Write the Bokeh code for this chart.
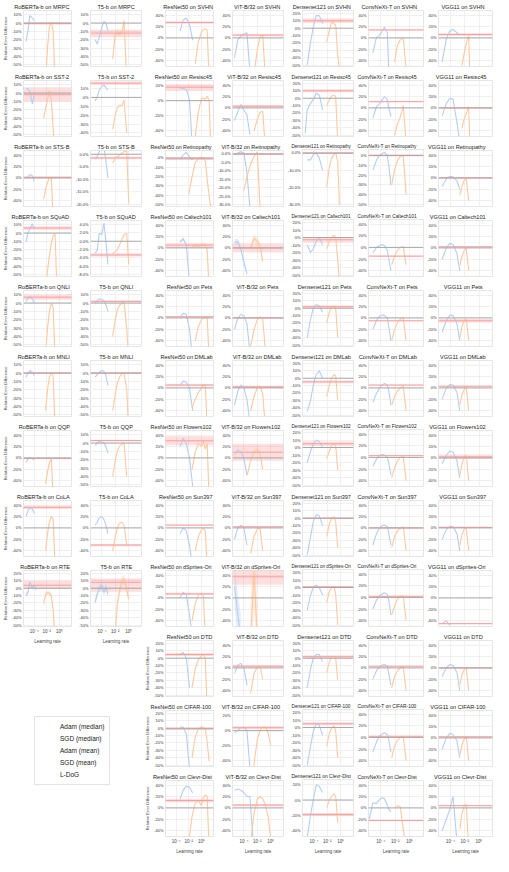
import math
from bokeh.plotting import figure
from bokeh.layouts import row, column
from bokeh.models import (FixedTicker, Range1d, Span, BoxAnnotation, Legend, LegendItem,
                          PrintfTickFormatter)
from bokeh.embed import file_html
from bokeh.resources import INLINE

# ---------------- data (log10 learning rates, relative error difference in %) ----------------
NLP_TASKS = ["MRPC", "SST-2", "STS-B", "SQuAD", "QNLI", "MNLI", "QQP", "CoLA", "RTE"]
VIS_TASKS = ["SVHN", "Resisc45", "Retinopathy", "Caltech101", "Pets", "DMLab", "Flowers102",
             "Sun397", "dSprites-Ori", "DTD", "CIFAR-100", "Clevr-Dist"]
X_TICKS = [1e-4, 1e-2, 1.0]
X_TICK_LABELS = ["10\u207b\u2074", "10\u207b\u00b2", "10\u2070"]

RB_ADAM_LR = [-5.3, -5.0, -4.7, -4.3, -4.0, -3.7]
RB_SGD_LR = [-2.5, -2.2, -1.9, -1.6, -1.3, -1.0, -0.7, -0.4]
T5_ADAM_LR = [-5.0, -4.7, -4.4, -4.0, -3.7, -3.4, -3.1]
T5_SGD_LR = [-2.4, -2.0, -1.7, -1.4, -1.0, -0.7, -0.3, 0.0]
RN_ADAM_LR = [-3.4, -2.9, -2.4, -1.9, -1.4]
RN_SGD_LR = [-2.0, -1.5, -1.0, -0.5, 0.0, 0.3, 0.6, 0.9, 1.2, 1.5]
VIT_ADAM_LR = [-5.4, -4.9, -4.45, -4.0, -3.55, -3.1, -2.65]
VIT_SGD_LR = [-4.0, -3.5, -3.0, -2.5, -2.0, -1.6, -1.2, -0.8, -0.4, 0.0]
DN_ADAM_LR = [-5.3, -5.0, -4.5, -4.1, -3.65, -3.2, -2.7]
DN_SGD_LR = [-2.1, -1.7, -1.35, -1.0, -0.75, -0.45, -0.2]
CN_ADAM_LR = [-5.6, -5.1, -4.6, -4.2, -3.8, -3.5, -3.1, -2.9, -2.6]
CN_SGD_LR = [-2.5, -2.1, -1.7, -1.3, -0.9, -0.5, -0.2]
VGG_ADAM_LR = [-5.2, -4.6, -4.1, -3.65, -3.1, -2.7]
VGG_SGD_LR = [-2.7, -2.4, -2.1, -1.8, -1.45, -1.3]

# each panel: (Adam median, SGD median, L-DoG (value, low, high))
RB_MRPC = ([-22, -10, 9, 6, 3, None], [None, -70, -30, -4, 1, -10, -70, None], (-0.5, -2, 1))
RB_SST2 = ([6, 5, 2, -13, -3, None], [-30, -18, -8, 3, -8, -43, -70, None], (-2, -10, 7))
RB_STSB = ([-1, 2, 6, 4, -6, None], [-37, -20, -8, 0, 1, -70, None, None], (1, -1, 3))
RB_SQUAD = ([-11, 0, 5, 11, 5, None], [None, -70, -45, -28, -12, -3, -1, -70], (6, 4, 8))
RB_QNLI = ([2, 6, 8, 5, 0, None], [None, -60, -30, -10, 0, -5, -70, None], (7, 4, 10))
RB_MNLI = ([-5, 0, 3, 1, -3, None], [None, -45, -20, -5, 0, -3, -70, None], (0, -1, 1))
RB_QQP = ([-8, -2, 0, -1, -4, None], [None, -45, -25, -8, -1, -70, None, None], (-1, -2, 0))
RB_COLA = ([20, 30, 35, 33, 25, None], [None, -40, -10, 10, 20, 15, -70, None], (36, 33, 39))
RB_RTE = ([-10, -6, 8, 0, 4, -2], [-21, -8, -6, -7, -10, -30, -70, None], (4, -1, 10))

T5_MRPC = ([-20, -25, -17, -5, 2, 0, -10], [-43, -13, -10, -13, -12, 3, -70, None], (-12, -17, -8))
T5_SST2 = ([-4, 1, 8, 13, 14, 11, 8], [-36, -19, -12, -9, -9, -3, -40, None], (16, 14, 18))
T5_STSB = ([-2, -0.8, 1, 2.3, 3, -3, -9.5], [-3.5, -1.5, -0.9, -0.5, 0.5, 1.0, 1.3, -20], (-1.5, -2, -1))
T5_SQUAD = ([-2.9, -2.2, 1.9, 1.6, 4.4, -0.1, -5.6], [-2.9, -2.5, -2.0, -1.0, 0.5, 1.6, 1.9, -5.6], (-3.3, -3.7, -2.9))
T5_QNLI = ([0, 3, 5, 4, 3, -2, -10], [-40, -20, -8, -3, 0, 1, -30, -70], (2, 1, 3))
T5_MNLI = ([-5, -2, 1, 3, 2, -3, -15], [-45, -25, -12, -5, -1, 0, -20, -70], (0, -1, 1))
T5_QQP = ([-3, 0, 2, 1, 0, -4, -12], [-40, -20, -10, -4, -1, 0, -40, None], (3, 2, 4))
T5_COLA = ([5, 10, 18, 20, 15, 5, -10], [-40, -15, 0, 8, 10, 5, -30, None], (-30, -32, -28))
T5_RTE = ([-19, -8, 0, 4, -6, 2, -8], [None, -60, -21, -5, 10, 13, -2, -15], (8, -5, 13))

RN_SVHN = ([12, 31, 35, 24, -4], [None, None, -45, -7, 10, 15, 16, 13, -70, None], (27, 25, 29))
RN_RESISC = ([17, 16, 15, 1, -70], [None, None, -48, -15, 3, 3, 2, 6, 1, -70], (18, 13, 22))
RN_RETINO = ([-1, 3, 6, 1, -2], [-39, -20, -5, -1, 1, 0, -3, -23, -40, -55], (-1, -2, 0))
RN_CALTECH = ([10, 16, 5, -60, None], [None, 1, 5, 3, 5, 6, 6, -4, -70, None], (5, 0, 8))
RN_PETS = ([2, 8, 6, -20, -70], [None, None, -40, -15, -3, 0, 2, 1, -70, None], (2, 1, 3))
RN_DMLAB = ([5, 12, 10, 0, -40], [None, -35, -20, -8, 0, 4, 5, -70, None, None], (5, 3, 7))
RN_FLOWERS = ([20, 35, 25, 0, -50], [None, -20, 10, 25, 20, 30, 15, 25, -70, None], (30, 22, 38))
RN_SUN = ([-10, 0, -5, -30, -70], [None, None, -40, -15, -3, -1, -5, -70, None, None], (5, 4, 6))
RN_DSPRITES = ([0, 10, 5, -30, -70], [None, -40, -10, 5, 8, 3, -70, None, None, None], (7, 5, 9))
RN_DTD = ([5, 8, 0, -40, None], [None, -40, -15, -2, 3, 5, 0, -70, None, None], (5, 3, 7))
RN_CIFAR = ([2, 1, -8, -55, None], [None, -40, -12, -1, 2, 1, -2, -18, -45, None], (-1, -2, 0))
RN_CLEVR = ([15, 31, 38, 36, 26], [-60, -15, 8, 13, 4, 18, 23, 20, -70, None], (13, 10, 16))

VIT_SVHN = ([-35, -3, 4, 7, 9, -60, None], [None, None, None, -65, -20, 1, 6, -70, None, None], (5, 3, 7))
VIT_RESISC = ([-22, -6, 6, -4, -12, -47, None], [None, None, None, -40, -20, -8, -6, -70, None, None], (3, 1, 5))
VIT_RETINO = ([-0.4, 0.6, 1.2, 0.6, -11, -32, None], [-21.5, -13, -6, -1.5, 1.2, -31, -31, None, None, None], (-0.2, -0.5, 0.1))
VIT_CALTECH = ([10, 11, -2, -25, -45, None, None], [None, None, -1, 17, 11, 4, -23, None, None, None], (0, -8, 8))
VIT_PETS = ([-20, 0, 6, 4, -10, -60, None], [None, None, -50, -20, -3, 2, 0, -60, None, None], (0, -1, 1))
VIT_DMLAB = ([-30, -5, 5, 0, -20, -60, None], [None, None, -40, -15, 0, 3, -10, -70, None, None], (2, 0, 4))
VIT_FLOWERS = ([5, 15, 10, 0, -30, None, None], [None, -30, -5, 10, 15, 8, -20, None, None, None], (10, -5, 25))
VIT_SUN = ([-20, 0, 5, 0, -30, None, None], [None, None, -45, -15, -2, 0, -40, None, None, None], (2, 1, 3))
VIT_DSPRITES = ([20, -30, -70, None, None, None, None], [None, None, -70, 45, -70, None, None, None, None, None], (37, 23, 50))
VIT_DTD = ([-10, 5, 8, 0, -30, None, None], [None, None, -45, -10, 2, 3, -20, None, None, None], (3, 1, 5))
VIT_CIFAR = ([-3, 0, 4, 5, 0, -50, None], [None, None, -70, -45, -12, 0, 5, 5, -3, -20], (4, 2, 6))
VIT_CLEVR = ([31, 33, 31, 27, 20, 20, -55], [None, None, -60, -10, 15, 20, 16, 5, -15, -55], (5, 3, 7))

DN_SVHN = ([None, -50, -19, 1, 17, 17, 6], [-19, -3, 9, 6, 4, -37, -55], (10, 7, 13))
DN_RESISC = ([-48, -16, -7, -2, 7, 4, -16], [-10, -2, 3, 4, 2, -60, None], (10, 8, 12))
DN_RETINO = ([None, -4, -4, -1, 0, -3, -10], [-20, -8, -3, -1, 0, -5, -30], (-0.2, -0.5, 0))
DN_CALTECH = ([None, -10, -20, -15, -5, 0, -10], [-15, -5, 0, 3, 0, -30, -60], (-3, -7, 0))
DN_PETS = ([None, -40, -15, 0, 5, 3, -5], [-20, -5, 2, 3, 0, -40, None], (2, 0, 4))
DN_DMLAB = ([None, -45, -30, -10, 5, 10, 0], [-25, -10, 0, 5, 3, -30, None], (-5, -7, -3))
DN_FLOWERS = ([None, -20, -5, 5, 10, 8, 0], [-15, -5, 3, 5, 2, -30, None], (5, 2, 8))
DN_SUN = ([None, -50, -25, -5, 5, 3, -10], [-25, -8, 0, 2, -5, -40, None], (0, -1, 1))
DN_DSPRITES = ([None, -30, -10, 0, 3, 0, -10], [-20, -5, 0, 2, -10, -50, None], (1, 0, 2))
DN_DTD = ([None, -40, -15, 0, 5, 5, -5], [-20, -5, 2, 3, 0, -30, None], (2, 0, 4))
DN_CIFAR = ([None, -50, -25, -5, 5, 3, -10], [-25, -8, 0, 2, -5, -40, None], (5, 3, 7))
DN_CLEVR = ([None, -50, -20, 0, 20, 18, 10], [-10, 0, 5, 8, 5, -30, None], (-19, -21, -17))

CN_SVHN = ([None, -26, 1, 4, 12, 19, 9, -55, None], [None, -42, -12, -3, 0, -55, None], (14, 13, 15))
CN_RESISC = ([None, -18, 2, 7, 14, 20, 14, 0, -15], [None, -48, -28, -16, 4, -60, None], (11, 10, 12))
CN_RETINO = ([None, -15, -5, 0, 2, 3, 0, -10, -30], [-30, -15, -5, -1, 0, -40, None], (0, -1, 1))
CN_CALTECH = ([None, -10, 0, 3, 5, 3, -5, -20, -40], [-30, -15, -5, 0, 2, -30, None], (-15, -16, -14))
CN_PETS = ([None, -20, -5, 3, 5, 4, 0, -15, -40], [-40, -20, -8, -2, 0, -40, None], (-5, -6, -4))
CN_DMLAB = ([None, -25, -10, 0, 5, 8, 5, -5, -30], [-30, -15, -5, 0, 3, -40, None], (5, 4, 6))
CN_FLOWERS = ([None, -15, -3, 3, 5, 4, 0, -10, -30], [-35, -18, -6, 0, 2, -40, None], (3, 2, 4))
CN_SUN = ([None, -30, -10, 0, 4, 5, 2, -10, -30], [-35, -15, -5, 0, 2, -40, None], (0, -1, 1))
CN_DSPRITES = ([None, -20, -5, 3, 6, 8, 5, -5, -30], [-30, -15, -3, 2, 3, -40, None], (2, 1, 3))
CN_DTD = ([None, -20, -5, 2, 5, 6, 3, -10, -30], [-35, -15, -5, 0, 2, -40, None], (3, 2, 4))
CN_CIFAR = ([None, -25, -8, 2, 6, 8, 5, -5, -25], [-35, -15, -5, 0, 2, -40, None], (2, 1, 3))
CN_CLEVR = ([-20, 9, 8, 14, 18, 16, 5, -2, -7], [None, 0, 4, 2, -37, -70, None], (-22, -23, -21))

VGG_SVHN = ([-42, -2, 12, 15, 9, 5], [None, -48, -28, -10, 4, -60], (6, 4, 8))
VGG_RESISC = ([-14, 8, 17, 15, -26, -60], [None, -35, -20, -10, 2, -60], (0, -1, 1))
VGG_RETINO = ([-15, -2, 3, 2, -5, -20], [-30, -15, -5, 0, -40, None], (0, -1, 1))
VGG_CALTECH = ([-20, 0, 8, 6, -10, -40], [-30, -15, -5, 0, -40, None], (2, 1, 3))
VGG_PETS = ([-25, -5, 5, 4, -10, -40], [-35, -15, -5, -2, -40, None], (-5, -8, -2))
VGG_DMLAB = ([-20, 0, 6, 5, -8, -40], [-30, -12, -3, 2, -40, None], (3, 2, 4))
VGG_FLOWERS = ([-10, 5, 12, 10, -5, -35], [-30, -10, 0, 5, -40, None], (2, -2, 6))
VGG_SUN = ([-20, -3, 3, 2, -10, -40], [-30, -12, -3, 0, -40, None], (1, 0, 2))
VGG_DSPRITES = ([-45, -40, -48, None, None, None], [None, None, None, None, None, None], (-45, -46, -44))
VGG_DTD = ([-15, 0, 6, 4, -8, -40], [-30, -12, -3, 1, -40, None], (0, -1, 1))
VGG_CIFAR = ([-20, 0, 8, 6, -5, -35], [-30, -12, -2, 3, -40, None], (2, 1, 3))
VGG_CLEVR = ([-40, -20, -2, 20, -60, None], [-37, -10, 3, 7, -70, None], (4, 3, 5))

# half-width of the mean (shaded) bands that are visible in some panels: (Adam, SGD)
MEAN_SPREAD = {
    "T5-b on MRPC": (0, 4), "RoBERTa-b on RTE": (3, 3), "T5-b on RTE": (5, 6),
    "ResNet50 on Caltech101": (3, 3), "ViT-B/32 on Caltech101": (5, 7),
    "ViT-B/32 on dSprites-Ori": (40, 60),
}

# ---------------- y-axis presets ----------------
Y_V40 = ((-50, 48), [-40, -20, 0, 20, 40], "%d%%")
Y_N10 = ((-52, 15), [-50, -40, -30, -20, -10, 0, 10], "%d%%")
Y_D20 = ((-52, 24), [-50, -40, -30, -20, -10, 0, 10, 20], "%d%%")
Y_W20 = ((-48, 27), [-40, -20, 0, 20], "%d%%")

COLUMNS = [
    ("RoBERTa-b", RB_ADAM_LR, RB_SGD_LR, [
        (RB_MRPC, Y_N10), (RB_SST2, Y_N10), (RB_STSB, Y_V40), (RB_SQUAD, Y_N10), (RB_QNLI, Y_N10),
        (RB_MNLI, Y_N10), (RB_QQP, Y_V40), (RB_COLA, Y_V40), (RB_RTE, Y_D20)], NLP_TASKS),
    ("T5-b", T5_ADAM_LR, T5_SGD_LR, [
        (T5_MRPC, Y_N10), (T5_SST2, ((-44, 19), [-40, -30, -20, -10, 0, 10], "%d%%")),
        (T5_STSB, ((-21, 1.5), [-20, -15, -10, -5, 0], "%.1f%%")),
        (T5_SQUAD, ((-8.5, 5), [-8, -6, -4, -2, 0, 2, 4], "%.1f%%")),
        (T5_QNLI, Y_N10), (T5_MNLI, Y_N10), (T5_QQP, Y_N10), (T5_COLA, Y_V40), (T5_RTE, Y_D20)], NLP_TASKS),
    ("ResNet50", RN_ADAM_LR, RN_SGD_LR, [
        (RN_SVHN, Y_V40), (RN_RESISC, Y_W20),
        (RN_RETINO, ((-52, 8), [-50, -40, -30, -20, -10, 0], "%d%%")),
        (RN_CALTECH, Y_V40), (RN_PETS, Y_V40), (RN_DMLAB, Y_V40), (RN_FLOWERS, Y_V40), (RN_SUN, Y_V40),
        (RN_DSPRITES, Y_V40), (RN_DTD, Y_D20), (RN_CIFAR, Y_D20), (RN_CLEVR, Y_V40)], VIS_TASKS),
    ("ViT-B/32", VIT_ADAM_LR, VIT_SGD_LR, [
        (VIT_SVHN, Y_V40), (VIT_RESISC, Y_V40),
        (VIT_RETINO, ((-31, 2), [-30, -25, -20, -15, -10, -5, 0], "%.1f%%")),
        (VIT_CALTECH, Y_V40), (VIT_PETS, Y_V40), (VIT_DMLAB, Y_V40), (VIT_FLOWERS, Y_V40), (VIT_SUN, Y_V40),
        (VIT_DSPRITES, Y_V40), (VIT_DTD, Y_V40), (VIT_CIFAR, Y_W20), (VIT_CLEVR, Y_V40)], VIS_TASKS),
    ("Densenet121", DN_ADAM_LR, DN_SGD_LR, [
        (DN_SVHN, Y_D20), (DN_RESISC, Y_D20),
        (DN_RETINO, ((-31, 2), [-30, -20, -10, 0], "%.1f%%")),
        (DN_CALTECH, Y_D20), (DN_PETS, Y_D20), (DN_DMLAB, Y_D20), (DN_FLOWERS, Y_D20), (DN_SUN, Y_D20),
        (DN_DSPRITES, Y_D20), (DN_DTD, Y_D20), (DN_CIFAR, Y_D20), (DN_CLEVR, Y_W20)], VIS_TASKS),
    ("ConvNeXt-T", CN_ADAM_LR, CN_SGD_LR, [
        (CN_SVHN, Y_V40), (CN_RESISC, Y_V40),
        (CN_RETINO, ((-52, 6), [-50, -40, -30, -20, -10, 0], "%d%%")),
        (CN_CALTECH, Y_V40), (CN_PETS, Y_V40), (CN_DMLAB, Y_V40), (CN_FLOWERS, Y_V40), (CN_SUN, Y_V40),
        (CN_DSPRITES, Y_V40), (CN_DTD, Y_V40), (CN_CIFAR, Y_V40), (CN_CLEVR, Y_V40)], VIS_TASKS),
    ("VGG11", VGG_ADAM_LR, VGG_SGD_LR, [
        (VGG_SVHN, Y_V40), (VGG_RESISC, Y_V40), (VGG_RETINO, Y_V40), (VGG_CALTECH, Y_V40),
        (VGG_PETS, Y_V40), (VGG_DMLAB, Y_V40), (VGG_FLOWERS, Y_V40), (VGG_SUN, Y_V40),
        (VGG_DSPRITES, Y_V40), (VGG_DTD, Y_V40), (VGG_CIFAR, Y_V40), (VGG_CLEVR, Y_V40)], VIS_TASKS),
]

# ---------------- style ----------------
BLUE = "#b2cff3"
ORANGE = "#ffc8a0"
RED = "#ff9c9c"
FONT = "Liberation Sans"
X_LO, X_HI = -5.7, 1.9
ROW_H = 70
BOT_H = 86
TITLE_PX = 5.6
RIGHT_B = 1
TEXT_FACTOR = 1.13

CHAR_W = {"A": .667, "B": .667, "C": .722, "D": .722, "E": .667, "F": .611, "G": .778, "H": .722,
          "I": .278, "L": .556, "M": .833, "N": .722, "O": .778, "P": .667, "Q": .778, "R": .722,
          "S": .667, "T": .611, "V": .667, "X": .667, "Y": .667, "a": .556, "b": .556, "c": .5,
          "d": .556, "e": .556, "f": .278, "g": .556, "h": .556, "i": .222, "k": .5, "l": .222,
          "m": .833, "n": .556, "o": .556, "p": .556, "r": .333, "s": .5, "t": .278, "u": .556,
          "v": .5, "w": .722, "x": .5, "y": .5, "-": .333, "/": .278, " ": .278}


def text_em(s):
    return sum(CHAR_W.get(c, .556) for c in s) * TEXT_FACTOR


def to_xy(lrs, ys):
    xs, out = [], []
    for lr, y in zip(lrs, ys):
        xs.append(10 ** lr)
        out.append(float("nan") if y is None else y)
    return xs, out


def style_axis(ax):
    ax.axis_line_color = None
    ax.major_tick_line_color = None
    ax.minor_tick_line_color = None
    ax.major_tick_out = 0
    ax.major_tick_in = 0
    ax.minor_tick_out = 0
    ax.minor_tick_in = 0


def add_band(p, lrs, ys, spread, color):
    if not spread:
        return
    xs, lo, hi = [], [], []
    for lr, y in zip(lrs, ys):
        if y is None:
            continue
        xs.append(10 ** lr)
        lo.append(y - spread)
        hi.append(y + spread)
    p.varea(x=xs, y1=lo, y2=hi, fill_color=color, fill_alpha=0.35)


def make_panel(title, a_lr, s_lr, data, ycfg, width, left, last, ylabel):
    adam, sgd, ld = data
    (ylo, yhi), yticks, fmt = ycfg
    height = BOT_H if last else ROW_H
    p = figure(width=width, height=height, title=title, x_axis_type="log",
               x_range=Range1d(10 ** X_LO, 10 ** X_HI), y_range=Range1d(ylo, yhi),
               output_backend="svg", toolbar_location=None,
               min_border_left=left, min_border_right=RIGHT_B, min_border_top=1,
               min_border_bottom=(20 if last else 4))
    # title: centred over the frame, kept inside the figure
    fsize = min(TITLE_PX, (width - 3) / text_em(title))
    tw = text_em(title) * fsize
    fw = width - left - RIGHT_B
    start = fw / 2 - tw / 2
    start = min(start, fw + RIGHT_B - tw - 1)
    start = max(start, -left + 1)
    p.title.text_font = FONT
    p.title.text_font_size = "%.2fpx" % fsize
    p.title.text_font_style = "normal"
    p.title.text_color = "#222222"
    p.title.align = "left"
    p.title.offset = start
    p.title.standoff = 2
    p.background_fill_color = "white"
    p.outline_line_color = "#e6e6e6"
    p.grid.grid_line_color = "#ececec"
    p.grid.grid_line_width = 0.8

    p.yaxis.ticker = FixedTicker(ticks=yticks)
    p.yaxis.formatter = PrintfTickFormatter(format=fmt)
    p.yaxis.major_label_text_font_size = "4px"
    p.yaxis.major_label_text_font = FONT
    p.yaxis.major_label_text_color = "#333333"
    p.yaxis.major_label_standoff = 2
    style_axis(p.yaxis[0])
    if ylabel:
        p.yaxis.axis_label = "Relative Error Difference"
        p.yaxis.axis_label_text_font_size = "4px"
        p.yaxis.axis_label_text_font = FONT
        p.yaxis.axis_label_text_font_style = "normal"
        p.yaxis.axis_label_standoff = 1

    p.xaxis.ticker = FixedTicker(ticks=X_TICKS)
    p.xgrid.ticker = FixedTicker(ticks=X_TICKS)
    style_axis(p.xaxis[0])
    if last:
        p.xaxis.major_label_overrides = {t: s for t, s in zip(X_TICKS, X_TICK_LABELS)}
        p.xaxis.major_label_text_font_size = "4.5px"
        p.xaxis.major_label_text_font = FONT
        p.xaxis.major_label_standoff = 2
        p.xaxis.axis_label = "Learning rate"
        p.xaxis.axis_label_text_font_size = "4.5px"
        p.xaxis.axis_label_text_font = FONT
        p.xaxis.axis_label_text_font_style = "normal"
        p.xaxis.axis_label_standoff = 2
    else:
        p.xaxis.visible = False

    p.add_layout(BoxAnnotation(bottom=ld[1], top=ld[2], fill_color="#ff0000", fill_alpha=0.13,
                               line_color=None, level="underlay"))
    p.add_layout(Span(location=ld[0], dimension="width", line_color=RED, line_width=1))
    p.add_layout(Span(location=0, dimension="width", line_color="#a8a8a8", line_width=1))

    sa, ss = MEAN_SPREAD.get(title, (0, 0))
    add_band(p, a_lr, adam, sa, BLUE)
    add_band(p, s_lr, sgd, ss, ORANGE)
    ax, ay = to_xy(a_lr, adam)
    sx, sy = to_xy(s_lr, sgd)
    p.line(ax, ay, line_color=BLUE, line_width=1.1)
    p.line(sx, sy, line_color=ORANGE, line_width=1.1)
    return p


col_widths = [72, 70, 72, 70, 70, 70, 69]
col_left = [17, 13, 17, 13, 13, 13, 13]
columns = []
for ci, (model, a_lr, s_lr, panels, tasks) in enumerate(COLUMNS):
    figs = []
    n = len(panels)
    for ri, ((data, ycfg), task) in enumerate(zip(panels, tasks)):
        ylabel = (ci == 0) or (ci == 2 and ri >= 9)
        figs.append(make_panel(f"{model} on {task}", a_lr, s_lr, data, ycfg,
                               col_widths[ci], col_left[ci], ri == n - 1, ylabel))
    columns.append(column(*figs, spacing=0))

# legend panel under the two language columns
lf = figure(width=col_widths[0] + col_widths[1], height=856 - (8 * ROW_H + BOT_H),
            x_range=(0, 1), y_range=(0, 1), output_backend="svg", toolbar_location=None,
            min_border=0)
lf.axis.visible = False
lf.grid.visible = False
lf.outline_line_color = None
r1 = lf.line([], [], line_color=BLUE, line_width=1.3)
r1m = lf.scatter([], [], marker="circle", size=2.5, color=BLUE)
r2 = lf.line([], [], line_color=ORANGE, line_width=1.3)
r2m = lf.scatter([], [], marker="circle", size=2.5, color=ORANGE)
r3 = lf.scatter([], [], marker="circle", size=2.5, color=BLUE)
r4 = lf.scatter([], [], marker="circle", size=2.5, color=ORANGE)
r5 = lf.line([], [], line_color=RED, line_width=1.6)
legend = Legend(items=[
    LegendItem(label="Adam (median)", renderers=[r1, r1m]),
    LegendItem(label="SGD (median)", renderers=[r2, r2m]),
    LegendItem(label="Adam (mean)", renderers=[r3]),
    LegendItem(label="SGD (mean)", renderers=[r4]),
    LegendItem(label="L-DoG", renderers=[r5]),
], location=(34, 71))
legend.label_text_font = FONT
legend.label_text_font_size = "6.5px"
legend.label_text_color = "#222222"
legend.glyph_height = 9
legend.glyph_width = 15
legend.label_height = 9
legend.spacing = 3
legend.padding = 5
legend.margin = 0
legend.border_line_color = "#c8c8c8"
lf.add_layout(legend)

left_block = column(row(columns[0], columns[1], spacing=0), lf, spacing=0)
layout = row(left_block, *columns[2:], spacing=0)

open("out.html", "w").write(file_html(layout, INLINE))
